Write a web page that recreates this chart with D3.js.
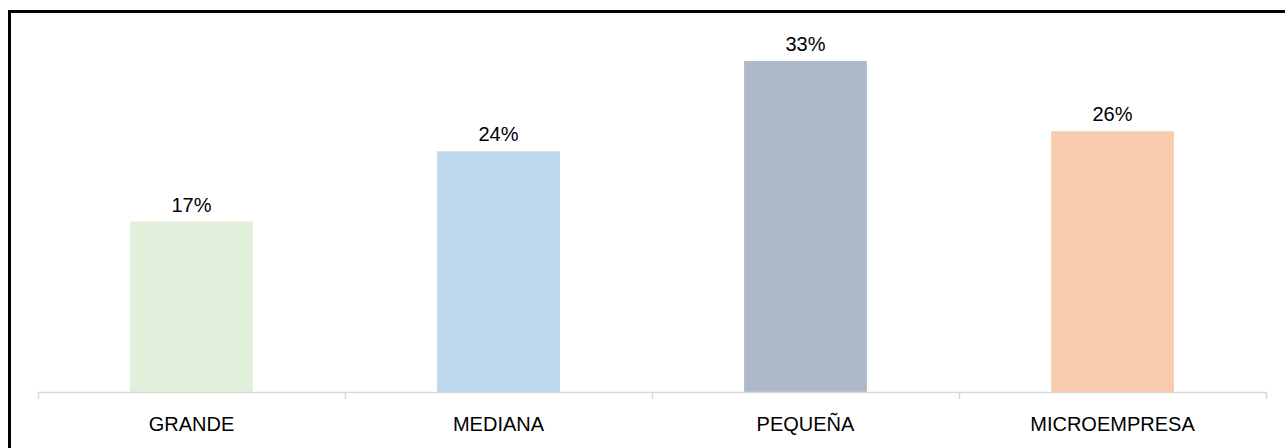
<!DOCTYPE html>
<html>
<head>
<meta charset="utf-8">
<script src="https://cdn.jsdelivr.net/npm/d3@7"></script>
<style>
  html, body { margin: 0; padding: 0; background: #fff; }
  svg { display: block; }
  text { font-family: "Liberation Sans", Arial, sans-serif; font-size: 20px; fill: #000; }
</style>
</head>
<body>
<svg id="chart" width="1285" height="448"></svg>
<script>
// Company size categories and their share (%)
const categories = ["GRANDE", "MEDIANA", "PEQUEÑA", "MICROEMPRESA"];
const shares = [17, 24, 33, 26];
const barColors = ["#e2efda", "#bdd7ee", "#adb9ca", "#f8cbad"];

const W = 1285, H = 448;
const svg = d3.select("#chart");

// Outer frame
svg.append("rect")
  .attr("x", 9.5).attr("y", 11.5)
  .attr("width", W).attr("height", H)
  .attr("fill", "none")
  .attr("stroke", "#000")
  .attr("stroke-width", 3);

const plot = { left: 38, right: 1266, top: 41, bottom: 392 };

const x = d3.scaleBand()
  .domain(categories)
  .range([plot.left, plot.right])
  .paddingInner(0.6)
  .paddingOuter(0.3);

const y = d3.scaleLinear()
  .domain([0, 35])
  .range([plot.bottom, plot.top]);

const data = categories.map((c, i) => ({ cat: c, v: shares[i], color: barColors[i] }));

// Bars
svg.append("g").selectAll("rect")
  .data(data)
  .join("rect")
  .attr("x", d => x(d.cat))
  .attr("y", d => y(d.v))
  .attr("width", x.bandwidth())
  .attr("height", d => y(0) - y(d.v))
  .attr("fill", d => d.color);

// Value labels
svg.append("g").selectAll("text")
  .data(data)
  .join("text")
  .attr("x", d => x(d.cat) + x.bandwidth() / 2)
  .attr("y", d => y(d.v) - 10)
  .attr("text-anchor", "middle")
  .text(d => d.v + "%");

// Category axis: baseline, tick marks at category boundaries, labels
const step = x.step();
const boundaries = d3.range(categories.length + 1).map(i => plot.left + i * step);
const axis = svg.append("g");
axis.append("line")
  .attr("x1", plot.left).attr("x2", plot.right)
  .attr("y1", plot.bottom + 0.5).attr("y2", plot.bottom + 0.5)
  .attr("stroke", "#d9d9d9").attr("stroke-width", 1.5);
axis.selectAll("line.tick")
  .data(boundaries)
  .join("line")
  .attr("class", "tick")
  .attr("x1", d => Math.round(d) + 0.5).attr("x2", d => Math.round(d) + 0.5)
  .attr("y1", plot.bottom).attr("y2", plot.bottom + 7)
  .attr("stroke", "#d9d9d9").attr("stroke-width", 1.5);
axis.selectAll("text")
  .data(categories)
  .join("text")
  .attr("x", d => x(d) + x.bandwidth() / 2)
  .attr("y", 430.5)
  .attr("text-anchor", "middle")
  .text(d => d);
</script>
</body>
</html>
